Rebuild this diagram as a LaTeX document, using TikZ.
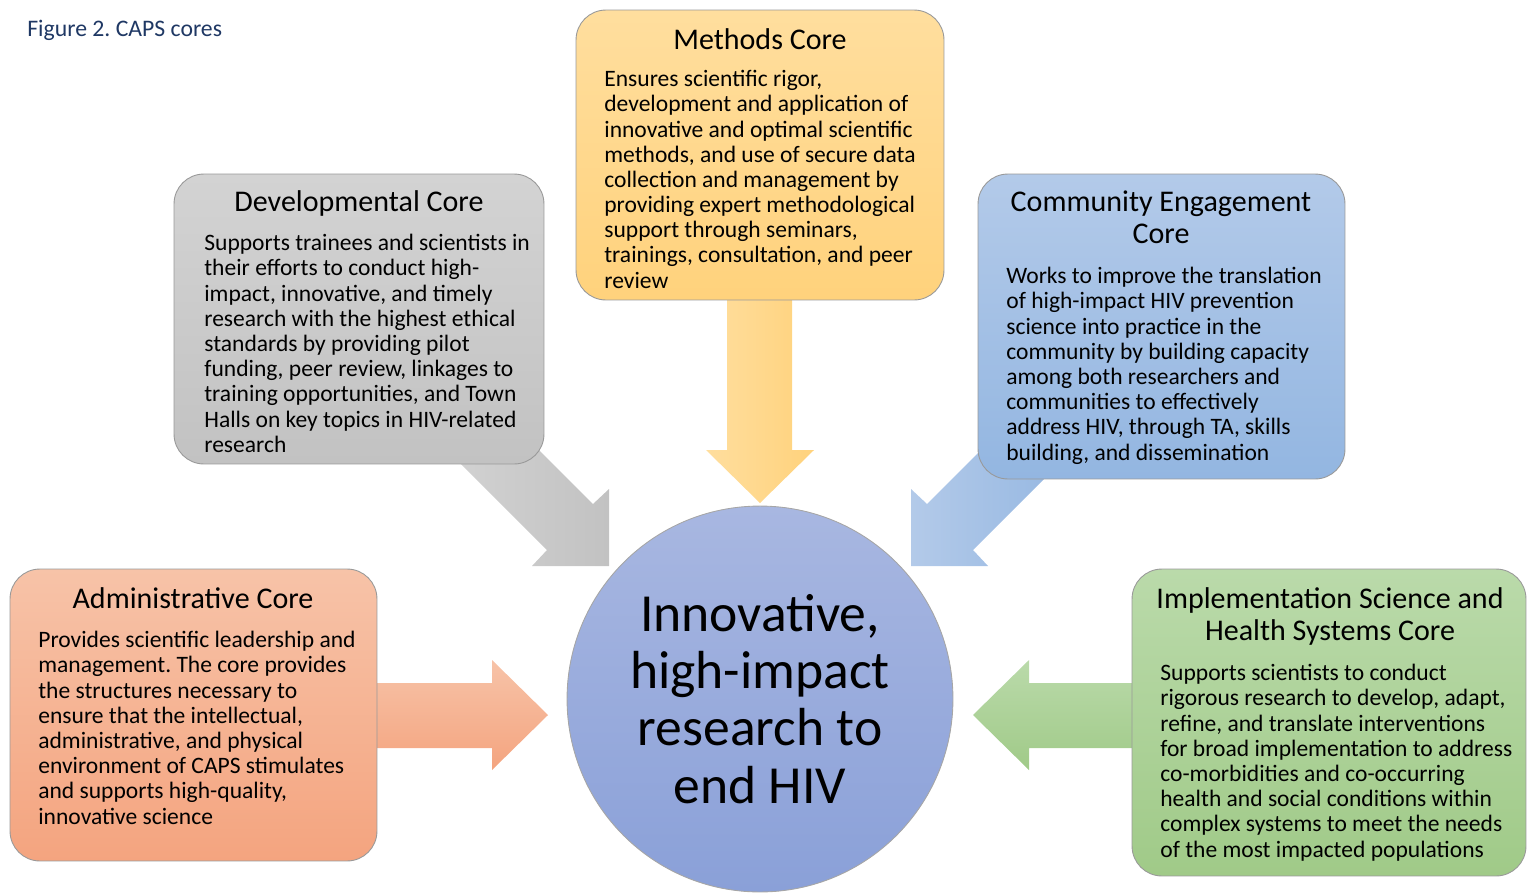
\documentclass[tikz,border=0pt]{standalone}
\usepackage{fontspec}
\setmainfont{Carlito}
\usepackage{tikz}
\frenchspacing
\definecolor{capsnavy}{HTML}{1F3864}
\definecolor{methtop}{HTML}{FFDE9E}
\definecolor{methbot}{HTML}{FFD27C}
\definecolor{devtop}{HTML}{D3D3D3}
\definecolor{devbot}{HTML}{C2C2C2}
\definecolor{commtop}{HTML}{B3CAE9}
\definecolor{commbot}{HTML}{93B6E1}
\definecolor{admtop}{HTML}{F7C3A8}
\definecolor{admbot}{HTML}{F4A47F}
\definecolor{imptop}{HTML}{BADAAA}
\definecolor{impbot}{HTML}{A0CA88}
\definecolor{hubtop}{HTML}{A8B7E1}
\definecolor{hubbot}{HTML}{8AA0D8}
\newcommand{\bodysize}{\fontsize{13.4}{14.34}\selectfont}
\newcommand{\capsize}{\fontsize{13.5}{16}\selectfont}
\newcommand{\headsize}{\fontsize{17.1}{18.2}\selectfont}
\newcommand{\hubsize}{\fontsize{30.5}{32.6}\selectfont}

\begin{document}
\begin{tikzpicture}[x=0.02cm, y=-0.02cm,
		corebox/.style={draw=black!40, line width=0.5pt, rounded corners=17pt, inner sep=0pt},
		corehead/.style={anchor=north, align=center, font=\headsize, inner sep=0pt},
		coretext/.style={anchor=north west, align=left, font=\bodysize, inner sep=0pt}]
		\useasboundingbox (0,0) rectangle (1528,893);

		\node[anchor=north west, inner sep=0pt, font=\capsize, color=capsnavy] at (27,20) (caption) {Figure 2. CAPS cores};

		\coordinate (devtip) at (609,566);
		\coordinate (commtip) at (911,566);
		\coordinate (methtip) at (760,503);
		\coordinate (admtip) at (548,715);
		\coordinate (imptip) at (973,715);

		\shade[left color=devtop, right color=devbot] (devtip) -- ++(-77,0) -- ++(15,-16) -- ++(-107,-107) -- ++(46,-46) -- ++(107,107) -- ++(16,-15) -- cycle;
		\shade[left color=commtop, right color=commbot] (commtip) -- ++(77,0) -- ++(-15,-16) -- ++(107,-107) -- ++(-46,-46) -- ++(-107,107) -- ++(-16,-15) -- cycle;
		\shade[left color=methtop, right color=methbot] (methtip) -- ++(-54,-53) -- ++(21,0) -- ++(0,-160) -- ++(65,0) -- ++(0,160) -- ++(22,0) -- cycle;
		\shade[top color=admtop, bottom color=admbot] (admtip) -- ++(-56,-55) -- ++(0,23) -- ++(-125,0) -- ++(0,65) -- ++(125,0) -- ++(0,22) -- cycle;
		\shade[top color=imptop, bottom color=impbot] (imptip) -- ++(56,-55) -- ++(0,23) -- ++(125,0) -- ++(0,65) -- ++(-125,0) -- ++(0,22) -- cycle;

		\node[corebox, top color=methtop, bottom color=methbot, minimum width=7.36cm, minimum height=5.8cm] at (760,155) (meth) {};
		\node[corebox, top color=devtop, bottom color=devbot, minimum width=7.4cm, minimum height=5.8cm] at (359,319) (dev) {};
		\node[corebox, top color=commtop, bottom color=commbot, minimum width=7.34cm, minimum height=6.1cm] at (1161.5,326.5) (comm) {};
		\node[corebox, top color=admtop, bottom color=admbot, minimum width=7.34cm, minimum height=5.84cm] at (193.5,715) (adm) {};
		\node[corebox, top color=imptop, bottom color=impbot, minimum width=7.88cm, minimum height=6.14cm] at (1329,722.5) (imp) {};

		\node[corehead] at (760,28) (methhead) {Methods Core};
		\node[coretext] at (604,70) (methtext) {Ensures scientific rigor,\\development and application of\\innovative and optimal scientific\\methods, and use of secure data\\collection and management by\\providing expert methodological\\support through seminars,\\trainings, consultation, and peer\\review};

		\node[corehead] at (359,190) (devhead) {Developmental Core};
		\node[coretext] at (204,234) (devtext) {Supports trainees and scientists in\\their efforts to conduct high-\\impact, innovative, and timely\\research with the highest ethical\\standards by providing pilot\\funding, peer review, linkages to\\training opportunities, and Town\\Halls on key topics in HIV-related\\research};

		\node[corehead] at (1161,190) (commhead) {Community Engagement\\Core};
		\node[coretext] at (1006,267) (commtext) {Works to improve the translation\\of high-impact HIV prevention\\science into practice in the\\community by building capacity\\among both researchers and\\communities to effectively\\address HIV, through TA, skills\\building, and dissemination};

		\node[corehead] at (193,587) (admhead) {Administrative Core};
		\node[coretext] at (38,631) (admtext) {Provides scientific leadership and\\management. The core provides\\the structures necessary to\\ensure that the intellectual,\\administrative, and physical\\environment of CAPS stimulates\\and supports high-quality,\\innovative science};

		\node[corehead] at (1330,587) (imphead) {Implementation Science and\\Health Systems Core};
		\node[coretext] at (1160,664) (imptext) {Supports scientists to conduct\\rigorous research to develop, adapt,\\refine, and translate interventions\\for broad implementation to address\\co-morbidities and co-occurring\\health and social conditions within\\complex systems to meet the needs\\of the most impacted populations};

		\node[circle, draw=black!35, line width=0.5pt, top color=hubtop, bottom color=hubbot, minimum size=7.72cm, inner sep=0pt, align=center, font=\hubsize] at (760,699) (hub) {Innovative,\\high-impact\\research to\\end HIV};
	\end{tikzpicture}
\end{document}
